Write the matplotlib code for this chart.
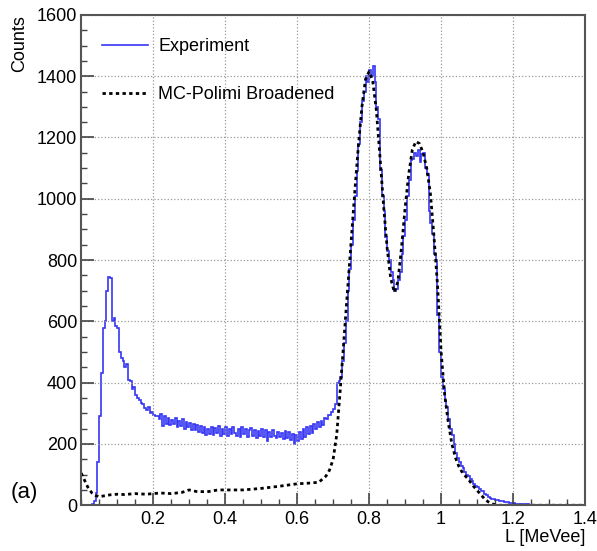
import numpy as np
import matplotlib
matplotlib.use("Agg")
import matplotlib.pyplot as plt
from matplotlib.ticker import MultipleLocator

plt.rcParams['font.family'] = ['Liberation Sans', 'DejaVu Sans']

# experiment histogram, bins of 0.005 MeVee starting at 0
bin_width = 0.005
exp_counts = [
    0, 0, 0, 0, 0, 0, 5, 15, 40, 140,
    290, 430, 580, 600, 700, 745, 740, 600, 610, 585,
    580, 500, 480, 470, 450, 460, 410, 405, 380, 385,
    360, 350, 345, 335, 330, 318, 312, 320, 300, 305,
    295, 290, 292, 280, 298, 258, 292, 266, 285, 262,
    278, 264, 284, 254, 275, 258, 282, 250, 272, 255,
    268, 246, 266, 244, 262, 240, 258, 236, 256, 228,
    248, 234, 254, 230, 252, 236, 258, 226, 249, 233,
    254, 226, 250, 232, 256, 236, 226, 250, 224, 254,
    234, 249, 222, 244, 252, 226, 246, 220, 242, 226,
    249, 222, 244, 210, 239, 224, 244, 226, 218, 240,
    224, 236, 215, 242, 220, 239, 213, 234, 200, 229,
    210, 239, 216, 249, 224, 254, 231, 259, 236, 266,
    248, 272, 255, 276, 262, 284, 282, 294, 296, 304,
    315, 330, 400, 405, 420, 470, 530, 600, 700, 770,
    850, 930, 1010, 1090, 1180, 1250, 1320, 1350, 1400, 1380,
    1420, 1400, 1432, 1380, 1300, 1260, 1095, 1010, 960, 875,
    830, 800, 760, 735, 700, 705, 735, 760, 820, 880,
    930, 1010, 1060, 1125, 1130, 1148, 1140, 1160, 1120, 1145,
    1150, 1100, 1080, 960, 920, 885, 820, 800, 620, 500,
    420, 380, 340, 320, 280, 250, 230, 200, 170, 155,
    140, 128, 120, 108, 100, 95, 85, 78, 70, 62,
    58, 52, 48, 45, 38, 32, 28, 25, 22, 20,
    18, 17, 15, 14, 13, 12, 11, 10, 8, 7,
    6, 5, 5, 4, 4, 3, 3, 3, 3, 2,
    2, 2, 2, 1, 1, 1, 1, 1, 1, 0,
    0, 0, 0, 0, 0, 0, 0, 0, 0, 0,
    0, 0, 0, 0, 0, 0, 0, 0, 0, 0,
]

# MC-Polimi broadened
mc_L = [0.0, 0.01, 0.02, 0.03, 0.04, 0.05, 0.06, 0.08, 0.10, 0.12,
        0.15, 0.18, 0.20, 0.22, 0.25, 0.28, 0.30, 0.32, 0.35, 0.38,
        0.40, 0.45, 0.50, 0.55, 0.60, 0.63, 0.66, 0.68, 0.69, 0.70,
        0.71, 0.72, 0.73, 0.74, 0.75, 0.76, 0.77, 0.78, 0.79, 0.80,
        0.81, 0.82, 0.83, 0.84, 0.85, 0.86, 0.87, 0.88, 0.89, 0.90,
        0.91, 0.92, 0.93, 0.94, 0.95, 0.96, 0.97, 0.98, 0.99, 1.00,
        1.01, 1.02, 1.03, 1.04, 1.05, 1.06, 1.07, 1.08, 1.09, 1.10,
        1.11, 1.12, 1.13, 1.14, 1.15, 1.16, 1.25, 1.40]
mc_counts = [105, 80, 55, 40, 32, 28, 30, 34, 36, 35,
             38, 36, 38, 40, 38, 42, 50, 45, 44, 50,
             50, 50, 55, 62, 70, 72, 75, 95, 115, 150,
             230, 380, 540, 700, 860, 1020, 1170, 1300, 1390, 1415,
             1385, 1290, 1140, 980, 840, 740, 695, 730, 840, 970,
             1080, 1160, 1187, 1180, 1150, 1100, 1020, 880, 720, 500,
             360, 270, 200, 155, 125, 105, 92, 78, 62, 49,
             35, 22, 12, 5, 2, 0, 0, 0]

x_ticks = [0.2, 0.4, 0.6, 0.8, 1.0, 1.2, 1.4]
x_labels = ['0.2', '0.4', '0.6', '0.8', '1', '1.2', '1.4']
y_ticks = [0, 200, 400, 600, 800, 1000, 1200, 1400, 1600]

fig = plt.figure(figsize=(5.97, 5.51), dpi=100)
ax = fig.add_axes([0.136, 0.083, 0.844, 0.89])

edges = np.arange(len(exp_counts) + 1) * bin_width
ax.stairs(exp_counts, edges, color='#3636f4', lw=1.2, label='Experiment')
ax.plot(mc_L, mc_counts, color='black', lw=2.0, ls=(0, (1.2, 1.2)),
        label='MC-Polimi Broadened')

ax.set_xlim(0, 1.4)
ax.set_ylim(0, 1600)
ax.set_xticks(x_ticks)
ax.set_xticklabels(x_labels)
ax.set_yticks(y_ticks)
ax.xaxis.set_minor_locator(MultipleLocator(0.05))
ax.yaxis.set_minor_locator(MultipleLocator(50))
ax.tick_params(which='both', direction='in', labelsize=13, color='#444444',
               top=False, right=False)
ax.tick_params(which='major', length=9, width=1.2)
ax.tick_params(which='minor', length=4.5, width=1.0)
ax.tick_params(axis='x', pad=4)
ax.tick_params(axis='y', pad=3)
ax.grid(True, which='major', ls=':', color='#999999', lw=0.9)
for s in ax.spines.values():
    s.set_color('#555555')
    s.set_linewidth(1.5)

ax.set_xlabel('L [MeVee]', fontsize=13, loc='right', labelpad=1)
ax.set_ylabel('Counts', fontsize=13, loc='top', labelpad=6)
fig.text(0.017, 0.107, '(a)', fontsize=16, va='center')

ax.legend(loc='upper left', frameon=False, fontsize=13, handlelength=2.5,
          handletextpad=0.6, labelspacing=1.7, bbox_to_anchor=(0.01, 0.985))

fig.savefig('out.png', dpi=100)
